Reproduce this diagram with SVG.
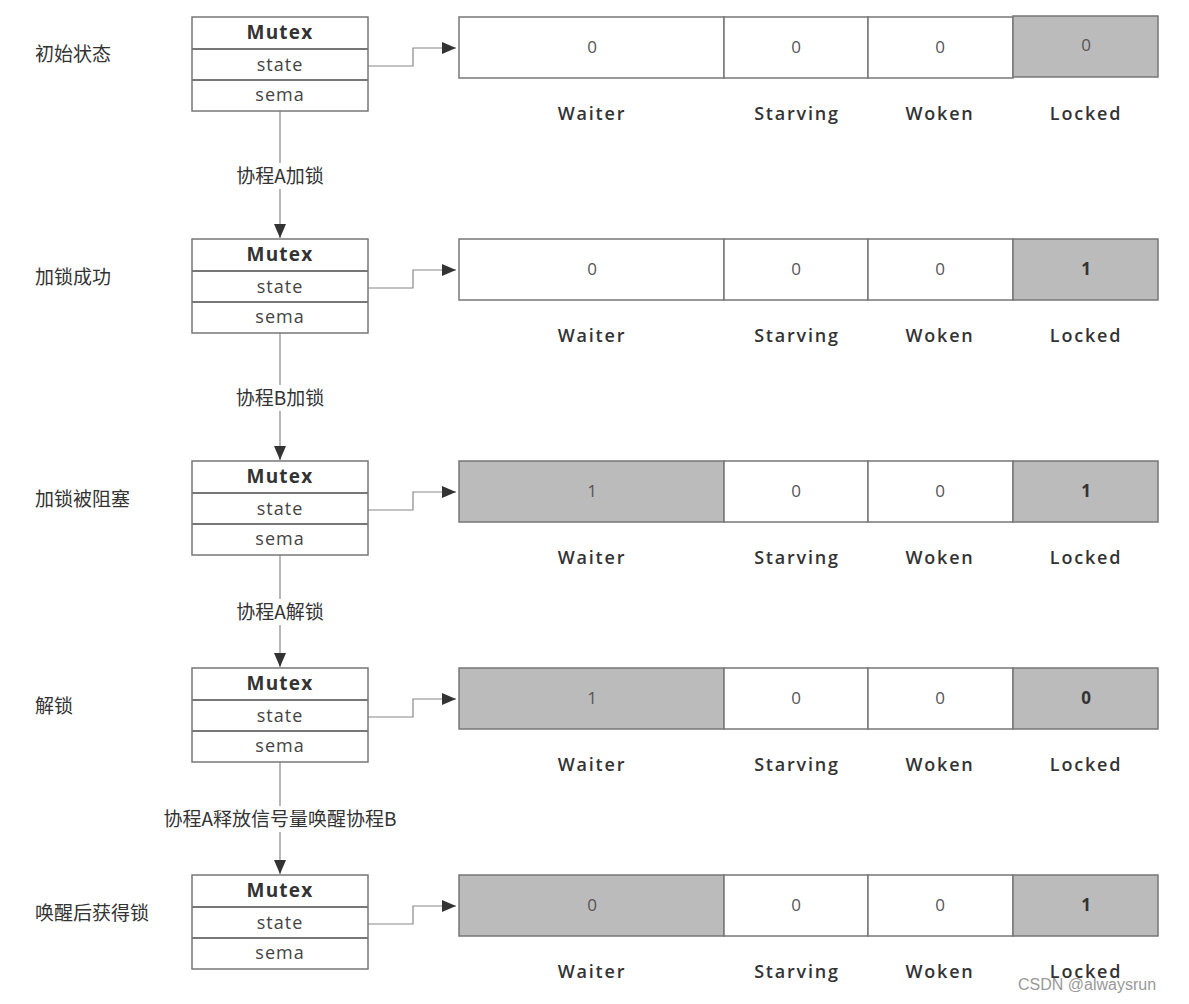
<svg xmlns="http://www.w3.org/2000/svg" width="1189" height="1004" viewBox="0 0 1189 1004">
<style>
.bx{fill:#fff;stroke:#777;stroke-width:1.5}
.ln{stroke:#777;stroke-width:2;fill:none}
.cw{fill:#fff;stroke:#777;stroke-width:1.5}
.cg{fill:#bbb;stroke:#777;stroke-width:1.5}
.mt{font-family:"Open Sans","Liberation Sans",sans-serif;font-size:19px;font-weight:bold;fill:#333;text-anchor:middle;letter-spacing:1.2px}
.fd{font-family:"Open Sans","Liberation Sans",sans-serif;font-size:18px;fill:#444;text-anchor:middle;letter-spacing:1px}
.v{font-family:"Open Sans","Liberation Sans",sans-serif;font-size:17px;fill:#555;text-anchor:middle}
.vb{font-family:"Open Sans","Liberation Sans",sans-serif;font-size:17px;font-weight:bold;fill:#333;text-anchor:middle}
.lb{font-family:"Open Sans","Liberation Sans",sans-serif;font-size:18px;font-weight:600;fill:#333;text-anchor:middle;letter-spacing:1.8px}
.st{font-family:"Noto Sans CJK SC",sans-serif;font-size:19px;fill:#333}
.el{font-family:"Noto Sans CJK SC",sans-serif;font-size:19px;fill:#333;text-anchor:middle}
.wm{font-family:"Liberation Sans",sans-serif;font-size:16px;fill:#999}
.cn{stroke:#888;stroke-width:1.2;fill:none}
</style>
<defs>
<marker id="ah" viewBox="0 0 14 12" refX="14" refY="6" markerWidth="14" markerHeight="12" markerUnits="userSpaceOnUse" orient="auto">
<path d="M0,0 L14,6 L0,12 Z" fill="#333"/>
</marker>
<g id="mutexTpl">
<rect class="bx" x="192" y="17" width="176" height="94"/>
<line class="ln" x1="192" y1="49" x2="368" y2="49"/>
<line class="ln" x1="192" y1="80" x2="368" y2="80"/>
<text class="mt" x="280" y="39">Mutex</text>
<text class="fd" x="280" y="71">state</text>
<text class="fd" x="280" y="101">sema</text>
</g>
<g id="labelsTpl">
<text class="lb" x="592" y="120">Waiter</text>
<text class="lb" x="797" y="120">Starving</text>
<text class="lb" x="940" y="120">Woken</text>
<text class="lb" x="1086" y="120">Locked</text>
</g>
</defs>
<rect width="1189" height="1004" fill="#fff"/>

<g id="connectors">
<path class="cn" d="M280,111 V238" marker-end="url(#ah)"/>
<path class="cn" d="M280,333 V460" marker-end="url(#ah)"/>
<path class="cn" d="M280,555 V667" marker-end="url(#ah)"/>
<path class="cn" d="M280,762 V874" marker-end="url(#ah)"/>
<path class="cn" d="M368,66 H413 V48 H456" marker-end="url(#ah)"/>
<path class="cn" d="M368,288 H413 V270 H456" marker-end="url(#ah)"/>
<path class="cn" d="M368,510 H413 V492 H456" marker-end="url(#ah)"/>
<path class="cn" d="M368,717 H413 V699 H456" marker-end="url(#ah)"/>
<path class="cn" d="M368,924 H413 V906 H456" marker-end="url(#ah)"/>
<rect x="218" y="163" width="124" height="26" fill="#fff"/>
<text class="el" x="280" y="183">协程A加锁</text>
<rect x="218" y="385" width="124" height="26" fill="#fff"/>
<text class="el" x="280" y="405">协程B加锁</text>
<rect x="218" y="599" width="124" height="26" fill="#fff"/>
<text class="el" x="280" y="619">协程A解锁</text>
<rect x="158" y="806" width="244" height="26" fill="#fff"/>
<text class="el" x="280" y="826">协程A释放信号量唤醒协程B</text>
</g>

<g id="row1">
<text class="st" x="35" y="61">初始状态</text>
<g id="mutex1"><use href="#mutexTpl"/></g>
<g id="state1">
<rect class="cw" x="459" y="17" width="265" height="61"/>
<rect class="cw" x="724" y="17" width="144" height="61"/>
<rect class="cw" x="868" y="17" width="145" height="61"/>
<rect class="cg" x="1013" y="16" width="145" height="61"/>
<text class="v" x="592" y="53">0</text>
<text class="v" x="796" y="53">0</text>
<text class="v" x="940" y="53">0</text>
<text class="v" x="1086" y="51">0</text>
<use href="#labelsTpl"/>
</g>
</g>

<g id="row2">
<text class="st" x="35" y="284">加锁成功</text>
<g id="mutex2"><use href="#mutexTpl" y="222"/></g>
<g id="state2">
<rect class="cw" x="459" y="239" width="265" height="61"/>
<rect class="cw" x="724" y="239" width="144" height="61"/>
<rect class="cw" x="868" y="239" width="145" height="61"/>
<rect class="cg" x="1013" y="239" width="145" height="61"/>
<text class="v" x="592" y="275">0</text>
<text class="v" x="796" y="275">0</text>
<text class="v" x="940" y="275">0</text>
<text class="vb" x="1086" y="275">1</text>
<use href="#labelsTpl" y="222"/>
</g>
</g>

<g id="row3">
<text class="st" x="35" y="506">加锁被阻塞</text>
<g id="mutex3"><use href="#mutexTpl" y="444"/></g>
<g id="state3">
<rect class="cg" x="459" y="461" width="265" height="61"/>
<rect class="cw" x="724" y="461" width="144" height="61"/>
<rect class="cw" x="868" y="461" width="145" height="61"/>
<rect class="cg" x="1013" y="461" width="145" height="61"/>
<text class="v" x="592" y="497">1</text>
<text class="v" x="796" y="497">0</text>
<text class="v" x="940" y="497">0</text>
<text class="vb" x="1086" y="497">1</text>
<use href="#labelsTpl" y="444"/>
</g>
</g>

<g id="row4">
<text class="st" x="35" y="713">解锁</text>
<g id="mutex4"><use href="#mutexTpl" y="651"/></g>
<g id="state4">
<rect class="cg" x="459" y="668" width="265" height="61"/>
<rect class="cw" x="724" y="668" width="144" height="61"/>
<rect class="cw" x="868" y="668" width="145" height="61"/>
<rect class="cg" x="1013" y="668" width="145" height="61"/>
<text class="v" x="592" y="704">1</text>
<text class="v" x="796" y="704">0</text>
<text class="v" x="940" y="704">0</text>
<text class="vb" x="1086" y="704">0</text>
<use href="#labelsTpl" y="651"/>
</g>
</g>

<g id="row5">
<text class="st" x="35" y="920">唤醒后获得锁</text>
<g id="mutex5"><use href="#mutexTpl" y="858"/></g>
<g id="state5">
<rect class="cg" x="459" y="875" width="265" height="61"/>
<rect class="cw" x="724" y="875" width="144" height="61"/>
<rect class="cw" x="868" y="875" width="145" height="61"/>
<rect class="cg" x="1013" y="875" width="145" height="61"/>
<text class="v" x="592" y="911">0</text>
<text class="v" x="796" y="911">0</text>
<text class="v" x="940" y="911">0</text>
<text class="vb" x="1086" y="911">1</text>
<use href="#labelsTpl" y="858"/>
</g>
</g>

<text class="wm" x="1018" y="990">CSDN @alwaysrun</text>
</svg>
